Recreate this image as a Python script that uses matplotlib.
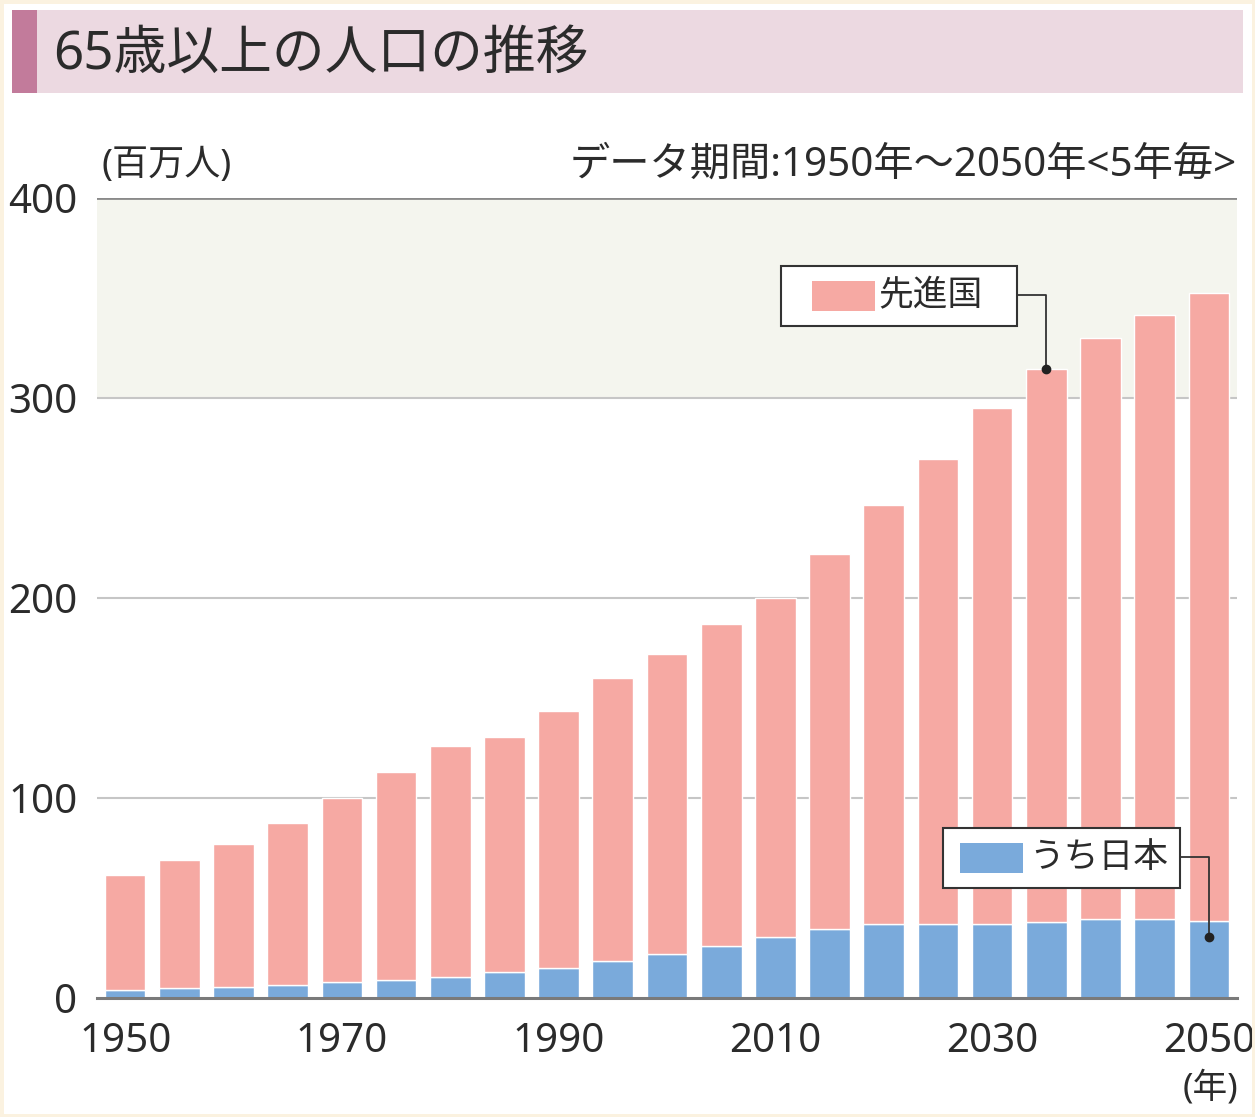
import matplotlib
matplotlib.use("Agg")
import matplotlib.pyplot as plt
from matplotlib.patches import Rectangle

plt.rcParams['font.family'] = ['Noto Sans', 'Noto Sans CJK JP', 'DejaVu Sans']

# data (millions of people aged 65+)
years = list(range(1950, 2051, 5))
developed = [61.5, 69, 77, 87.5, 100, 113, 126, 130.5, 143.5, 160, 172,
             187, 200, 222, 246.5, 269.5, 295, 314.5, 330, 341.5, 352.5]
japan = [4, 5, 5.5, 6.5, 8, 9, 10.5, 13, 15, 18.5, 22,
         26, 30.5, 34.5, 37, 37, 37, 38, 39.5, 39.5, 38.5]
yticks = [0, 100, 200, 300, 400]
xticks = [1950, 1970, 1990, 2010, 2030, 2050]

title = "65歳以上の人口の推移"
unit = "(百万人)"
period = "データ期間:1950年〜2050年<5年毎>"
label_dev = "先進国"
label_jp = "うち日本"

pink = "#f6a9a3"
blue = "#7aaadb"
txt = "#2b2b2b"

fig = plt.figure(figsize=(12.55, 11.17), dpi=100)
fig.patch.set_facecolor("white")

# cream outer frame
fig.patches.append(Rectangle((0, 0), 1, 1, transform=fig.transFigure,
                             facecolor="none", edgecolor="#fbf2e0", linewidth=5))

# title band
fig.patches.append(Rectangle((12 / 1255, 1 - 93 / 1117), (1243 - 12) / 1255, 83 / 1117,
                             transform=fig.transFigure, facecolor="#ecd9e1", edgecolor="none"))
fig.patches.append(Rectangle((12 / 1255, 1 - 93 / 1117), 25 / 1255, 83 / 1117,
                             transform=fig.transFigure, facecolor="#c27b9b", edgecolor="none"))
fig.text(53 / 1255, 1 - 55 / 1117, title, fontsize=38, color=txt, va="center", ha="left")

ax = fig.add_axes([97 / 1255, 1 - 998 / 1117, (1237 - 97) / 1255, (998 - 198) / 1117])
ax.set_xlim(1947.4, 2052.6)
ax.set_ylim(0, 400)

# shaded band above 300
ax.axhspan(300, 400, color="#f4f5ee", zorder=0, lw=0)
for v in [100, 200, 300]:
    ax.axhline(v, color="#c6c6c6", lw=1.5, zorder=1)
ax.axhline(400, color="#8a8a8a", lw=2, zorder=1)

others = [d - j for d, j in zip(developed, japan)]
ax.bar(years, japan, width=3.75, color=blue, edgecolor="white", linewidth=1, zorder=2)
ax.bar(years, others, bottom=japan, width=3.75, color=pink, edgecolor="white", linewidth=1, zorder=2)
ax.axhline(0, color="#7a7a7a", lw=2.2, zorder=3, clip_on=False)

for s in ax.spines.values():
    s.set_visible(False)
ax.set_yticks(yticks)
ax.set_xticks(xticks)
ax.tick_params(axis="y", length=0, pad=14, labelsize=29, labelcolor=txt)
ax.tick_params(axis="x", length=0, pad=17, labelsize=29, labelcolor=txt)

fig.text(101 / 1255, 1 - 166 / 1117, unit, fontsize=26, color=txt, va="center", ha="left")
fig.text(1237 / 1255, 1 - 166 / 1117, period, fontsize=29, color=txt, va="center", ha="right")
fig.text(1210 / 1255, 1 - 1088 / 1117, "(年)", fontsize=25, color=txt, va="center", ha="center")


def callout(x0, y0, x1, y1, color, label, pdx, tdx, px, py):
    ax.add_patch(Rectangle((x0, y0), x1 - x0, y1 - y0, facecolor="white",
                           edgecolor="#333333", lw=1.5, zorder=5))
    ym = (y0 + y1) / 2
    ax.add_patch(Rectangle((x0 + pdx, ym - 7.5), 5.8, 15, facecolor=color,
                           edgecolor="none", zorder=6))
    ax.text(x0 + tdx, ym, label, fontsize=25, color=txt, va="center", ha="left", zorder=6)
    ax.plot([x1, px, px], [ym + 0.5, ym + 0.5, py], color="#333333", lw=1.3, zorder=6)
    ax.plot(px, py, "o", color="#222222", ms=6, zorder=7)


callout(2010.5, 336, 2032.3, 366, pink, label_dev, 2.86, 9.0, years[17], developed[17])
callout(2025.5, 55, 2047.3, 85, blue, label_jp, 1.57, 7.9, years[20], 30.5)

fig.savefig("out.png", dpi=100, facecolor=fig.get_facecolor())
